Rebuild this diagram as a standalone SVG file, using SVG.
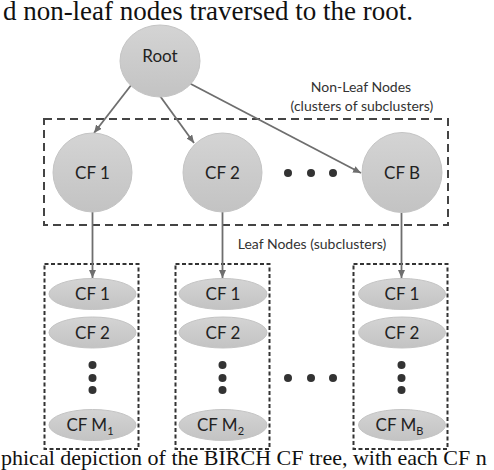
<svg xmlns="http://www.w3.org/2000/svg" width="494" height="470" viewBox="0 0 494 470">
<defs>
<linearGradient id="g" x1="0" y1="0" x2="0" y2="1">
<stop offset="0" stop-color="#d4d4d4"/>
<stop offset="1" stop-color="#c3c3c3"/>
</linearGradient>
<marker id="ah" markerUnits="userSpaceOnUse" markerWidth="9" markerHeight="8" refX="8" refY="3.5" orient="auto">
<path d="M0,0 L8,3.5 L0,7 z" fill="#6e6e6e"/>
</marker>
<style>
.node{fill:url(#g);stroke:#c4c4c4;stroke-width:1}
.lbl{font-family:Lato,"Open Sans",sans-serif;font-size:17px;fill:#222;text-anchor:middle}
.note{font-family:Lato,"Open Sans",sans-serif;font-size:14px;fill:#333;text-anchor:middle}
.big{fill:none;stroke:#444;stroke-width:2;stroke-dasharray:8 5}
.box{fill:none;stroke:#333;stroke-width:2;stroke-dasharray:4 2.5}
.conn{stroke:#6e6e6e;stroke-width:1.8;fill:none;marker-end:url(#ah)}
.dot{fill:#333}
.body{font-family:"Liberation Serif","Times New Roman",serif;fill:#111}
</style>
</defs>
<rect width="494" height="470" fill="#fff"/>
<text class="body" x="413" y="20" font-size="27" text-anchor="end">d non-leaf nodes traversed to the root.</text>
<text class="body" x="1" y="465" font-size="22">phical depiction of the BIRCH CF tree, with each CF n</text>

<g id="nonleaf-box"><rect class="big" x="44" y="119" width="404" height="106"/></g>
<g id="leaf-box-1"><rect class="box" x="44.5" y="264" width="94" height="185"/></g>
<g id="leaf-box-2"><rect class="box" x="175.5" y="264" width="94" height="185"/></g>
<g id="leaf-box-3"><rect class="box" x="353.5" y="264" width="94" height="185"/></g>

<text class="note" x="361" y="92">Non-Leaf Nodes</text>
<text class="note" x="362" y="111">(clusters of subclusters)</text>
<text class="note" x="312" y="249">Leaf Nodes (subclusters)</text>

<g id="connectors">
<line class="conn" x1="132" y1="84" x2="94" y2="133"/>
<line class="conn" x1="160" y1="96" x2="194" y2="143"/>
<line class="conn" x1="189" y1="83" x2="361" y2="173"/>
<line class="conn" x1="92.5" y1="212" x2="92.5" y2="278"/>
<line class="conn" x1="222.5" y1="212" x2="222.5" y2="278"/>
<line class="conn" x1="401.5" y1="213" x2="401.5" y2="278"/>
</g>

<g id="root"><ellipse class="node" cx="160" cy="61" rx="40" ry="36"/><text class="lbl" x="160" y="62">Root</text></g>
<g id="cf1"><circle class="node" cx="92.5" cy="172.5" r="39.5"/><text class="lbl" x="92.5" y="179">CF 1</text></g>
<g id="cf2"><circle class="node" cx="222.5" cy="172.5" r="39.5"/><text class="lbl" x="222.5" y="179">CF 2</text></g>
<g id="cfb"><circle class="node" cx="402" cy="172.5" r="40"/><text class="lbl" x="402" y="179">CF B</text></g>

<g id="dots-top"><circle class="dot" cx="288" cy="173" r="4"/><circle class="dot" cx="311" cy="173" r="4"/><circle class="dot" cx="333" cy="173" r="4"/></g>
<g id="dots-bottom"><circle class="dot" cx="288" cy="378" r="4"/><circle class="dot" cx="311" cy="378" r="4"/><circle class="dot" cx="333" cy="378" r="4"/></g>

<g id="leaf1-cf1"><ellipse class="node" cx="92.5" cy="294" rx="43.5" ry="15.5"/><text class="lbl" x="92.5" y="300">CF 1</text></g>
<g id="leaf1-cf2"><ellipse class="node" cx="92.5" cy="332.5" rx="43.5" ry="15.5"/><text class="lbl" x="92.5" y="338.5">CF 2</text></g>
<g id="leaf1-dots"><circle class="dot" cx="92.5" cy="365" r="4"/><circle class="dot" cx="92.5" cy="378" r="4"/><circle class="dot" cx="92.5" cy="390" r="4"/></g>
<g id="leaf1-cfm"><ellipse class="node" cx="92.5" cy="425" rx="43.5" ry="15.5"/><text class="lbl" x="90" y="431">CF M<tspan font-size="11" dy="4">1</tspan></text></g>

<g id="leaf2-cf1"><ellipse class="node" cx="223" cy="294" rx="44" ry="15.5"/><text class="lbl" x="223" y="300">CF 1</text></g>
<g id="leaf2-cf2"><ellipse class="node" cx="223" cy="332.5" rx="44" ry="15.5"/><text class="lbl" x="223" y="338.5">CF 2</text></g>
<g id="leaf2-dots"><circle class="dot" cx="222.5" cy="365" r="4"/><circle class="dot" cx="222.5" cy="378" r="4"/><circle class="dot" cx="222.5" cy="390" r="4"/></g>
<g id="leaf2-cfm"><ellipse class="node" cx="223" cy="425" rx="44" ry="15.5"/><text class="lbl" x="220.5" y="431">CF M<tspan font-size="11" dy="4">2</tspan></text></g>

<g id="leaf3-cf1"><ellipse class="node" cx="402" cy="294" rx="43.5" ry="15.5"/><text class="lbl" x="402" y="300">CF 1</text></g>
<g id="leaf3-cf2"><ellipse class="node" cx="402" cy="332.5" rx="43.5" ry="15.5"/><text class="lbl" x="402" y="338.5">CF 2</text></g>
<g id="leaf3-dots"><circle class="dot" cx="401.5" cy="365" r="4"/><circle class="dot" cx="401.5" cy="378" r="4"/><circle class="dot" cx="401.5" cy="390" r="4"/></g>
<g id="leaf3-cfm"><ellipse class="node" cx="402" cy="425" rx="43.5" ry="15.5"/><text class="lbl" x="399.5" y="431">CF M<tspan font-size="11" dy="4">B</tspan></text></g>
</svg>
